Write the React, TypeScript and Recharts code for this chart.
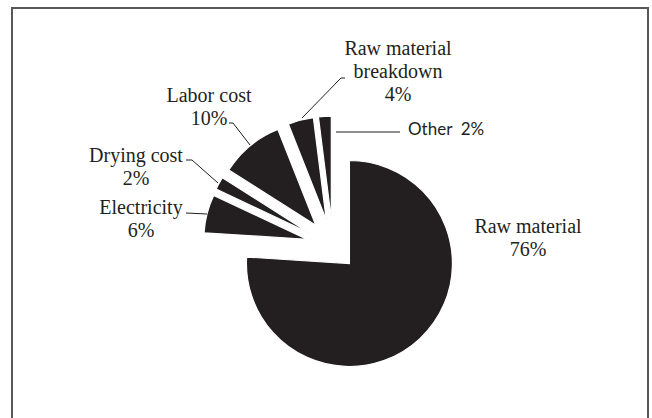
import React from 'react';
import { PieChart, Pie, Cell, Sector } from 'recharts';

// ---- data ----
const categories = ['Raw material', 'Electricity', 'Drying cost', 'Labor cost', 'Raw material breakdown', 'Other'];
const shares = [76, 6, 2, 10, 4, 2];
const data = categories.map((name, i) => ({ name, value: shares[i] }));

// ---- style ----
const INK = '#231f20';
const SERIF = '"Liberation Serif", "Times New Roman", serif';
const SANS = 'Lato, "Noto Sans", sans-serif';
const explode = [24, 27, 27, 27, 27, 27];
const RAD = Math.PI / 180;

// label layout (lines, anchor, baselines, leader polyline)
const labelLayout: Record<string, { lines: string[]; x: number; y: number; font?: string; size?: number; anchor?: string; leader?: number[][] }> = {
  'Raw material': { lines: ['Raw material', '{v}'], x: 528, y: 233 },
  'Electricity': { lines: ['Electricity', '{v}'], x: 141, y: 214, leader: [[186, 213], [207, 214]] },
  'Drying cost': { lines: ['Drying cost', '{v}'], x: 136, y: 162, leader: [[186, 160], [192, 160], [218, 183]] },
  'Labor cost': { lines: ['Labor cost', '{v}'], x: 209, y: 102, leader: [[229, 123], [233, 123], [250, 145]] },
  'Raw material breakdown': { lines: ['Raw material', 'breakdown', '{v}'], x: 398, y: 55, leader: [[345, 78], [341, 78], [302, 118]] },
  'Other': { lines: ['Other  {v}'], x: 408, y: 135, font: SANS, size: 17, anchor: 'start', leader: [[336, 132], [400, 132]] },
};

const renderSlice = (props: any) => {
  const name = props?.payload?.name ?? props?.name;
  const idx = categories.indexOf(name);
  const d = explode[idx] ?? 0;
  const m = -props.midAngle * RAD;
  return (
    <Sector
      {...props}
      cx={props.cx + d * Math.cos(m)}
      cy={props.cy + d * Math.sin(m)}
      fill={INK}
      stroke="#ffffff"
      strokeWidth={1.2}
    />
  );
};

const renderLabel = (props: any) => {
  const name = props?.payload?.name ?? props?.name;
  const value = props?.payload?.value ?? props?.value;
  const L = labelLayout[name];
  if (!L) return null;
  const size = L.size ?? 20;
  return (
    <g>
      {L.leader && (
        <polyline points={L.leader.map((p) => p.join(',')).join(' ')} fill="none" stroke={INK} strokeWidth={1} />
      )}
      {L.lines.map((ln, i) => (
        <text
          key={i}
          x={L.x}
          y={L.y + i * 23}
          textAnchor={(L.anchor as any) ?? 'middle'}
          fontFamily={L.font ?? SERIF}
          fontSize={size}
          fill={INK}
          style={{ whiteSpace: 'pre' }}
        >
          {ln.replace('{v}', `${value}%`)}
        </text>
      ))}
    </g>
  );
};

export default function App() {
  return (
    <div style={{ position: 'absolute', left: 0, top: 0, width: 652, height: 418, background: '#fff' }}>
      <svg width={652} height={418} style={{ position: 'absolute', left: 0, top: 0 }}>
        <polyline points="12,420 12,8 648,8 648,420" fill="none" stroke="#585858" strokeWidth={2} />
      </svg>
      <div style={{ position: 'absolute', left: 0, top: 0 }}>
        <PieChart width={652} height={418} margin={{ top: 0, right: 0, bottom: 0, left: 0 }}>
          <Pie
            data={data}
            dataKey="value"
            nameKey="name"
            cx={333}
            cy={246}
            outerRadius={103}
            startAngle={90}
            endAngle={-270}
            isAnimationActive={false}
            stroke="#ffffff"
            strokeWidth={1.2}
            shape={renderSlice}
            activeShape={renderSlice}
            inactiveShape={renderSlice}
            label={renderLabel}
            labelLine={false}
          >
            {data.map((d) => (
              <Cell key={d.name} fill={INK} />
            ))}
          </Pie>
        </PieChart>
      </div>
    </div>
  );
}
